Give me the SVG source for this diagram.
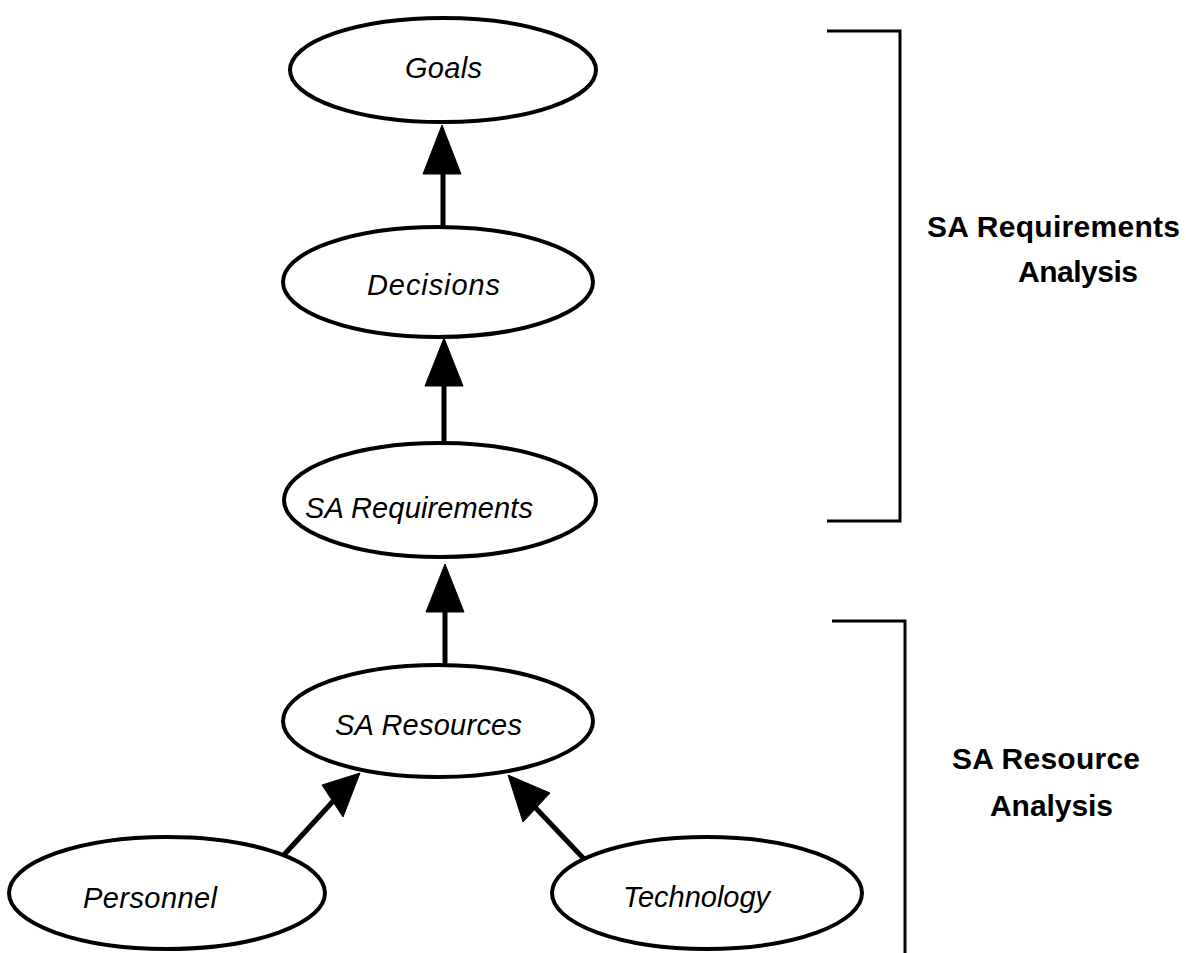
<svg xmlns="http://www.w3.org/2000/svg" width="1186" height="953" viewBox="0 0 1186 953">
<style>
.node ellipse{fill:#fff;stroke:#000;stroke-width:4}
.lbl{font-family:"Liberation Sans",Arial,sans-serif;font-style:italic;font-size:29px;fill:#000}
.side{font-family:"Liberation Sans",Arial,sans-serif;font-weight:bold;font-size:30px;fill:#000}
.conn line{stroke:#000;stroke-width:5}
.conn polygon{fill:#000;stroke:#000;stroke-width:1}
.br{fill:none;stroke:#000;stroke-width:3}
</style>
<rect width="1186" height="953" fill="#fff"/>
<g id="connectors" class="conn">
<line x1="443" y1="227" x2="443" y2="170"/>
<polygon points="442,125 423,174 461,174"/>
<line x1="444" y1="443" x2="444" y2="382"/>
<polygon points="444,338 425,386 463,386"/>
<line x1="445" y1="665" x2="445" y2="608"/>
<polygon points="445,564 426,612 464,612"/>
<line x1="282" y1="857" x2="336" y2="798"/>
<polygon points="360,773 322,785 343,817"/>
<line x1="585" y1="860" x2="531" y2="803"/>
<polygon points="508,775 523,822 550,793"/>
</g>
<g id="goals" class="node">
<ellipse cx="443" cy="70" rx="153" ry="52"/>
<text class="lbl" x="405" y="78" textLength="77">Goals</text>
</g>
<g id="decisions" class="node">
<ellipse cx="438" cy="282" rx="155" ry="55"/>
<text class="lbl" x="367" y="295" textLength="133">Decisions</text>
</g>
<g id="sa-requirements" class="node">
<ellipse cx="440" cy="500" rx="156" ry="57"/>
<text class="lbl" x="305" y="518" textLength="228">SA Requirements</text>
</g>
<g id="sa-resources" class="node">
<ellipse cx="438" cy="721" rx="155" ry="56"/>
<text class="lbl" x="335" y="735" textLength="187">SA Resources</text>
</g>
<g id="personnel" class="node">
<ellipse cx="167" cy="893" rx="158" ry="56"/>
<text class="lbl" x="83" y="908" textLength="134">Personnel</text>
</g>
<g id="technology" class="node">
<ellipse cx="707" cy="893" rx="155" ry="56"/>
<text class="lbl" x="623" y="907" textLength="147">Technology</text>
</g>
<g id="req-analysis">
<polyline class="br" points="827,31 900,31 900,521 827,521"/>
<text class="side" x="927" y="237" textLength="253">SA Requirements</text>
<text class="side" x="1018" y="282" textLength="120">Analysis</text>
</g>
<g id="res-analysis">
<polyline class="br" points="832,621 905,621 905,953"/>
<text class="side" x="952" y="769" textLength="188">SA Resource</text>
<text class="side" x="990" y="816" textLength="123">Analysis</text>
</g>
</svg>
